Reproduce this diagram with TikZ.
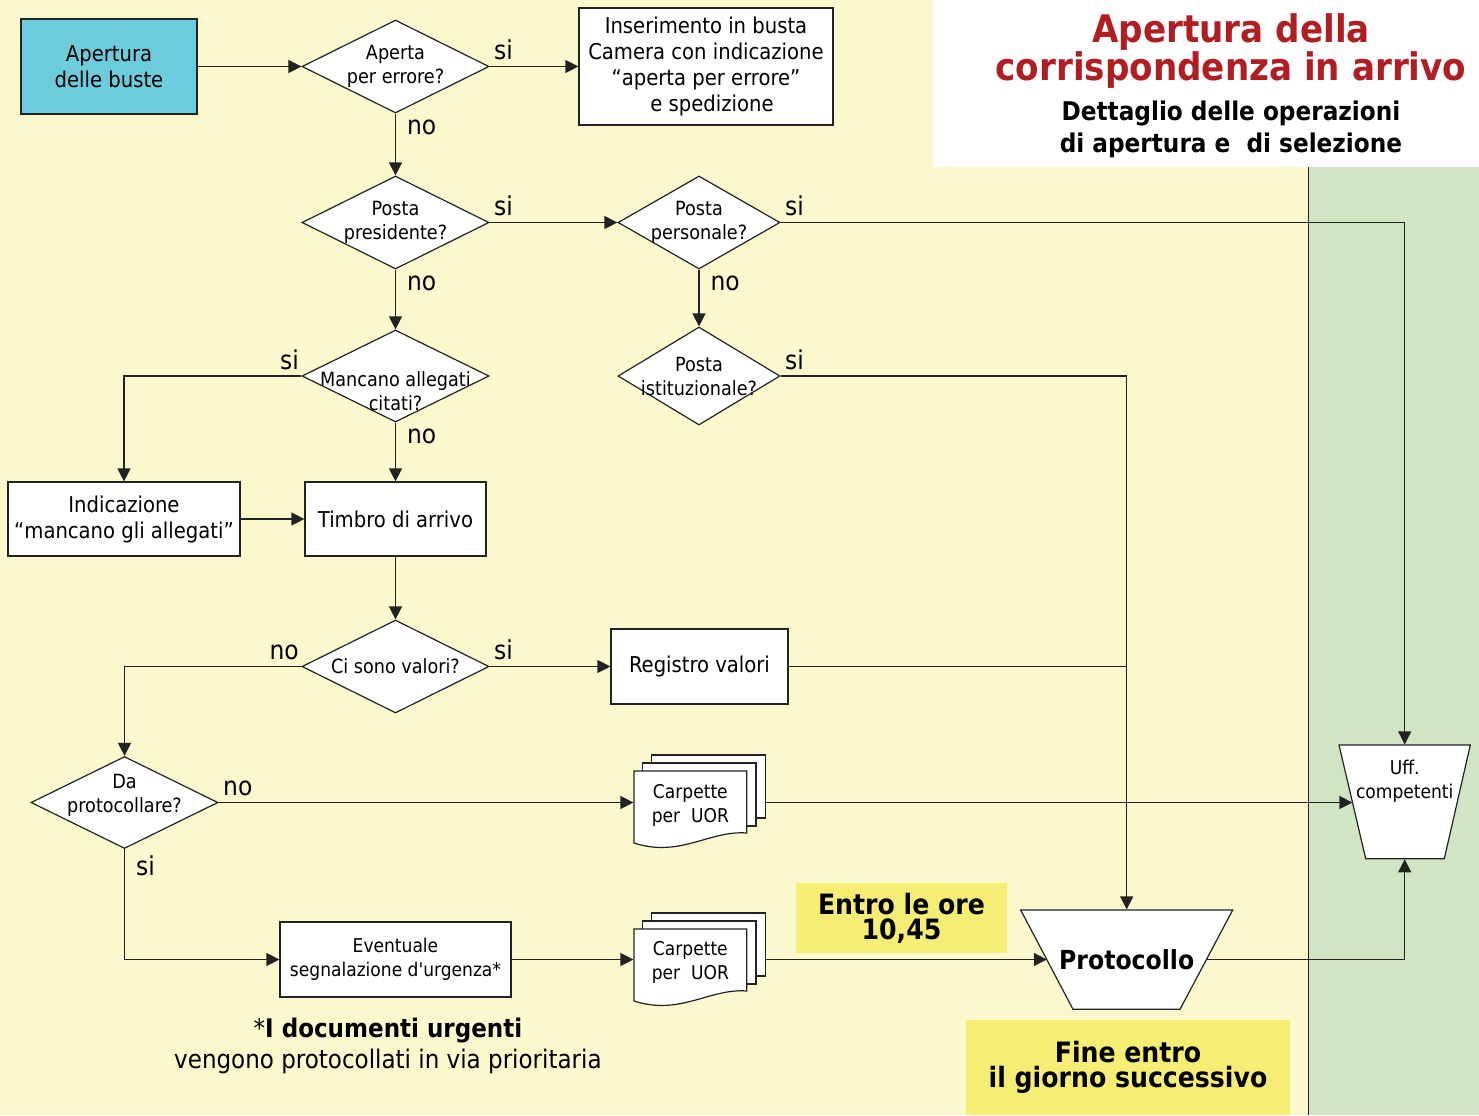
\documentclass[tikz,border=0pt]{standalone}
\usepackage{fontspec}
\setmainfont{DejaVu Sans Condensed}
\usetikzlibrary{shapes.geometric,arrows.meta,positioning}
\definecolor{bgyellow}{HTML}{FAF8CC}
\definecolor{bggreen}{HTML}{CFE5C4}
\definecolor{titlered}{HTML}{B01E23}
\definecolor{startblue}{HTML}{6CCCDC}
\definecolor{noteyellow}{HTML}{F6EE74}
\definecolor{linegray}{HTML}{222222}

\begin{document}
\begin{tikzpicture}[x=0.5pt,y=-0.5pt,line width=0.6pt,
  >={Triangle[length=6.5pt,width=6.5pt]}]
  \tikzset{
    box/.style={draw=linegray,fill=white,rectangle,align=center,inner sep=1pt,
      font=\fontsize{10.9}{13}\selectfont},
    smallbox/.style={box,font=\fontsize{9.5}{12}\selectfont},
    decision/.style={draw=linegray,fill=white,diamond,inner sep=0pt,
      minimum width=93.5pt,minimum height=46.5pt},
    qtext/.style={align=center,inner sep=0pt,font=\fontsize{9.8}{12}\selectfont},
    office/.style={align=center,inner sep=0pt},
    note/.style={fill=noteyellow,align=center,
      font=\bfseries\fontsize{14}{12.5}\selectfont},
    sheet/.style={draw=linegray,fill=white},
    flow/.style={draw=linegray,->},
    ans/.style={font=\fontsize{13}{13}\selectfont,inner sep=1pt},
    ansr/.style={ans,anchor=south west,xshift=1pt,yshift=2pt},
    ansl/.style={ans,anchor=south east,yshift=2pt},
    ansd/.style={ans,anchor=north west,xshift=4.5pt,yshift=-2pt}
  }
  \useasboundingbox (0,0) rectangle (1479,1115);
  % sfondi
  \fill[bgyellow] (0,0) rectangle (1479,1115);
  \fill[white] (933,0) rectangle (1479,167);
  \fill[bggreen] (1308,167) rectangle (1479,1115);
  \draw[linegray,line width=0.5pt] (1308,167) -- (1308,1115);

  % titolo
  \node[text=titlered,align=center,font=\bfseries\fontsize{19}{16.5}\selectfont]
    (title) at (1231,51) {Apertura della\\corrispondenza in arrivo};
  \node[align=center,font=\bfseries\fontsize{12.9}{16}\selectfont]
    (subtitle) at (1231,129) {Dettaglio delle operazioni\\di apertura e\ \ di selezione};

  % blocchi
  \node[box,fill=startblue,minimum width=88pt,minimum height=47.5pt]
    (open) at (109,66.5) {Apertura\\delle buste};
  \node[decision,label={[qtext]center:Aperta\\per errore?}] (err) at (395.5,66.5) {};
  \node[box,minimum width=127pt,minimum height=58.5pt] (ins) at (706,66.5)
    {Inserimento in busta\\Camera con indicazione\\“aperta per errore”\\
     \hspace*{6pt}e spedizione};
  \node[decision,label={[qtext]center:Posta\\presidente?}] (pres) at (395.5,222.5) {};
  \node[decision,minimum width=81pt,label={[qtext]center:Posta\\personale?}]
    (pers) at (699,222.5) {};
  \node[decision,minimum width=81pt,minimum height=49pt,
    label={[qtext]center:Posta\\istituzionale?}] (ist) at (699,376) {};
  \node[decision,minimum height=46pt,
    label={[qtext,yshift=-7.5pt]center:Mancano allegati\\citati?}] (all) at (395.5,376) {};
  \node[box,minimum width=116pt,minimum height=37pt] (ind) at (124,519)
    {Indicazione\\“mancano gli allegati”};
  \node[box,minimum width=90.5pt,minimum height=37pt] (timbro) at (395.5,519)
    {Timbro di arrivo};
  \node[decision,label={[qtext]center:Ci sono valori?}] (val) at (395.5,666.5) {};
  \node[box,minimum width=88.5pt,minimum height=37.5pt] (reg) at (699.5,666.5)
    {Registro valori};
  \node[decision,minimum height=46pt,
    label={[qtext,yshift=3.5pt]center:Da\\protocollare?}] (dapr) at (124.5,802.5) {};
  \node[smallbox,minimum width=115.5pt,minimum height=37.5pt] (evt) at (395.5,959.5)
    {Eventuale\\segnalazione d\textquotesingle urgenza*};

  % carpette
  \foreach \y in {771,929}{
    \draw[sheet] (651.7,\y-16) rectangle (765.3,\y+47);
    \draw[sheet] (642.3,\y-8) rectangle (756,\y+55);
    \draw[sheet] (634,\y) -- (746.7,\y) -- (746.7,\y+62)
      .. controls (710,\y+59) and (680,\y+87) .. (634,\y+72) -- cycle;
  }
  \node[qtext,font=\fontsize{9.5}{12}\selectfont,minimum width=56.35pt,
    minimum height=30pt] (carp1) at (690.35,805.5) {Carpette\\per\ \ UOR};
  \coordinate (carp1out) at (765.3,802.5);
  \node[qtext,font=\fontsize{9.5}{12}\selectfont,minimum width=56.35pt,
    minimum height=30pt] (carp2) at (690.35,962) {Carpette\\per\ \ UOR};
  \coordinate (carp2out) at (765.3,959.5);

  % uffici e protocollo
  \draw[sheet] (1339,745) -- (1470.3,745) -- (1444.3,858.7) -- (1365.7,858.7) -- cycle;
  \node[office,minimum width=65.65pt,minimum height=56.85pt,
    label={[qtext,font=\fontsize{9.5}{12}\selectfont,anchor=north,yshift=-7.5pt]north:Uff.\\competenti}]
    (uff) at (1404.7,801.85) {};
  \coordinate (uffin) at (1352.4,802.5);
  \draw[sheet] (1020.7,910) -- (1232.7,910) -- (1180,1009.3) -- (1073,1009.3) -- cycle;
  \node[office,minimum width=106pt,minimum height=49.65pt,
    font=\bfseries\fontsize{13.1}{14}\selectfont] (prot) at (1126.7,959.65) {Protocollo};
  \coordinate (protin) at (1046.8,959.5);
  \coordinate (protout) at (1206.3,959.5);

  % note
  \node[note,minimum width=105.5pt,minimum height=35pt] (ore) at (901.5,918)
    {Entro le ore\\10,45};
  \node[note,minimum width=162pt,minimum height=47.5pt] (fine) at (1128,1067.5)
    {Fine entro\\il giorno successivo};
  \node[align=center,font=\fontsize{12.8}{15.5}\selectfont] (foot) at (388,1046)
    {*\textbf{I documenti urgenti}\\vengono protocollati in via prioritaria};

  % collegamenti
  \draw[flow] (open) -- (err);
  \draw[flow] (err.east) -- node[ansr,pos=0] {si} (ins.west);
  \draw[flow] (err.south) -- node[ansd,pos=0] {no} (pres.north);
  \draw[flow] (pres.east) -- node[ansr,pos=0] {si} (pers.west);
  \draw[flow] (pres.south) -- node[ansd,pos=0] {no} (all.north);
  \draw[flow] (pers.east) -| node[ansr,pos=0] {si} (uff.north);
  \draw[flow] (pers.south) -- node[ansd,pos=0] {no} (ist.north);
  \draw[flow] (ist.east) -| node[ansr,pos=0] {si} (prot.north);
  \draw[flow] (all.west) -| node[ansl,pos=0] {si} (ind.north);
  \draw[flow] (all.south) -- node[ansd,pos=0] {no} (timbro.north);
  \draw[flow] (ind) -- (timbro);
  \draw[flow] (timbro) -- (val);
  \draw[flow] (val.east) -- node[ansr,pos=0] {si} (reg.west);
  \draw[linegray] (reg.east) -- (reg.east -| prot.north);
  \draw[flow] (val.west) -| node[ansl,pos=0] {no} (dapr.north);
  \draw[flow] (dapr.east) -- node[ansr,pos=0] {no} (dapr.east -| carp1.west);
  \draw[flow] (dapr.south) |- node[ansd,pos=0] {si} (evt.west);
  \draw[flow] (evt.east) -- (evt.east -| carp2.west);
  \draw[flow] (carp1out) -- (uffin);
  \draw[flow] (carp2out) -- (protin);
  \draw[flow] (protout) -| (uff.south);
\end{tikzpicture}
\end{document}
